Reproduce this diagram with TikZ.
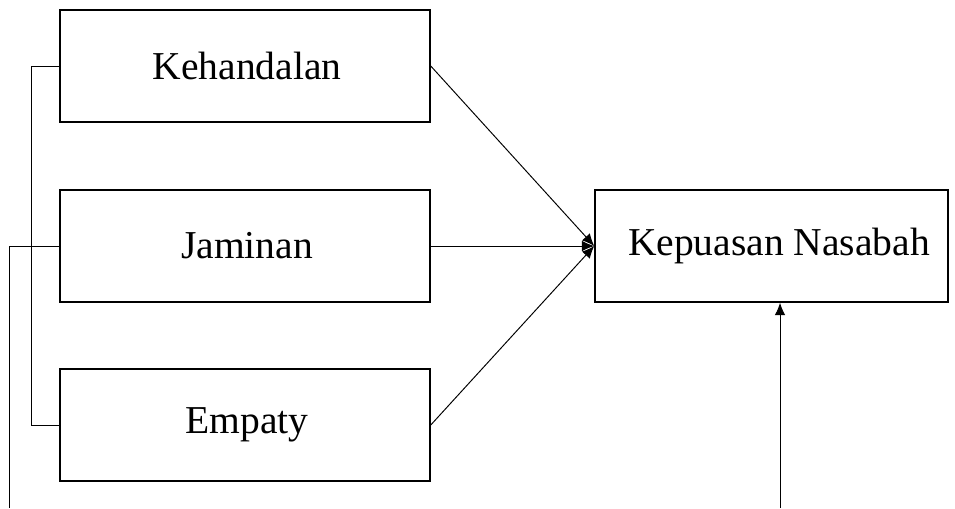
\documentclass[tikz,border=0pt]{standalone}
\usepackage{fontspec}
\setmainfont{Liberation Serif}
\usepackage{tikz}
\usetikzlibrary{calc, positioning, arrows.meta}

\begin{document}
\begin{tikzpicture}[x=0.02cm, y=-0.02cm, >={Latex[length=7pt, width=6pt]}]
    \tikzset{
        varbox/.style={draw, line width=0.9pt, minimum width=7.4cm, minimum height=2.24cm, font=\fontsize{22.5}{26}\selectfont, inner sep=0pt},
        conn/.style={line width=0.55pt}
    }
    \useasboundingbox (0,0) rectangle (955,508);

    % 1. Kotak variabel
    \node[varbox] (keh) at (245,66) {\hspace*{0.08cm}Kehandalan};
    \node[varbox] (jam) at (245,246) {\hspace*{0.08cm}Jaminan};
    \node[varbox] (emp) at (245,425) {\hspace*{0.08cm}Empaty};
    \node[varbox, minimum width=7.06cm] (kep) at (771.5,246) {\hspace*{0.3cm}Kepuasan Nasabah};

    % 2. Panah ke variabel terikat
    \draw[conn, ->] (keh.east) -- (kep.west);
    \draw[conn, ->] (jam.east) -- (kep.west);
    \draw[conn, ->] (emp.east) -- (kep.west);

    % 3. Garis kurung di kiri
    \draw[conn] (keh.west) -- ++(-28,0) |- (emp.west);
    \coordinate (kiri) at (9,508);
    \draw[conn] (jam.west) -| (kiri);

    % 4. Panah dari bawah
    \coordinate (bawah) at (780,508);
    \draw[conn, ->] (bawah) -- (bawah |- kep.south);
\end{tikzpicture}
\end{document}
